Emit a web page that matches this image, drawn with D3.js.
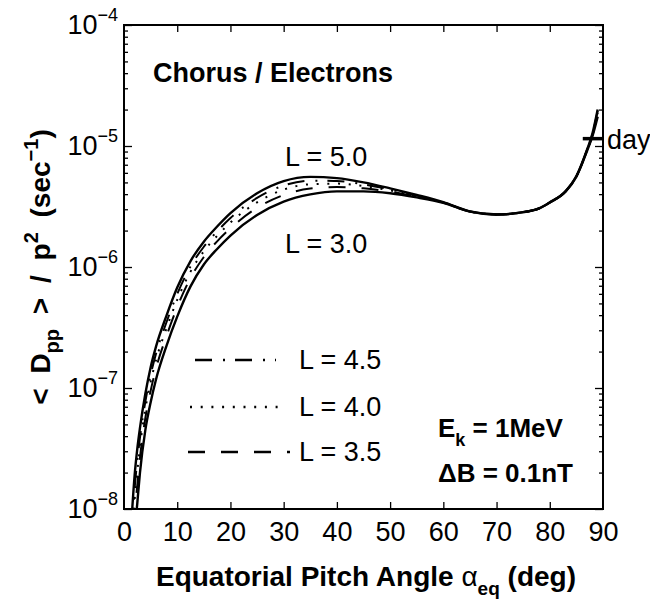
<!DOCTYPE html>
<html><head><meta charset="utf-8">
<script src="https://cdn.jsdelivr.net/npm/d3@7"></script>
<style>
body{margin:0;background:#fff}
svg{display:block}
text{font-family:"Liberation Sans",Arial,Helvetica,sans-serif;fill:#000}
</style>
</head><body>
<svg id="c" width="650" height="602"></svg>
<script>
// ---------- data ----------
const angles = [1.5,2,2.5,3,4,5,6,8,10,12.5,15,17.5,20,25,30,35,40,45,50,55,60,65,70,75,78,80,83,85,87,88,89];
const dppL50 = [9.33e-9,1.91e-8,3.16e-8,4.68e-8,8.91e-8,1.48e-7,2.19e-7,3.98e-7,6.76e-7,1.12e-6,1.62e-6,2.16e-6,2.79e-6,4.07e-6,5.13e-6,5.56e-6,5.43e-6,5.01e-6,4.47e-6,3.94e-6,3.43e-6,2.88e-6,2.72e-6,2.84e-6,3.05e-6,3.42e-6,4.25e-6,5.65e-6,9.33e-6,1.26e-5,2.00e-5];
const dppL45 = [7.00e-9,1.49e-8,2.52e-8,3.88e-8,7.66e-8,1.28e-7,1.91e-7,3.51e-7,5.98e-7,1.01e-6,1.47e-6,1.97e-6,2.54e-6,3.72e-6,4.71e-6,5.16e-6,5.14e-6,4.82e-6,4.38e-6,3.90e-6,3.42e-6,2.88e-6,2.72e-6,2.84e-6,3.05e-6,3.42e-6,4.24e-6,5.63e-6,9.28e-6,1.25e-5,1.95e-5];
const dppL40 = [5.37e-9,1.20e-8,2.05e-8,3.27e-8,6.67e-8,1.12e-7,1.69e-7,3.13e-7,5.36e-7,9.16e-7,1.35e-6,1.81e-6,2.33e-6,3.42e-6,4.36e-6,4.83e-6,4.89e-6,4.66e-6,4.30e-6,3.86e-6,3.41e-6,2.88e-6,2.72e-6,2.84e-6,3.05e-6,3.42e-6,4.24e-6,5.61e-6,9.22e-6,1.23e-5,1.88e-5];
const dppL35 = [3.89e-9,9.08e-9,1.58e-8,2.64e-8,5.61e-8,9.46e-8,1.44e-7,2.70e-7,4.67e-7,8.11e-7,1.21e-6,1.63e-6,2.09e-6,3.08e-6,3.94e-6,4.45e-6,4.58e-6,4.47e-6,4.20e-6,3.82e-6,3.40e-6,2.87e-6,2.72e-6,2.84e-6,3.05e-6,3.41e-6,4.23e-6,5.60e-6,9.18e-6,1.22e-5,1.82e-5];
const dppL30 = [2.51e-9,6.31e-9,1.12e-8,2.00e-8,4.47e-8,7.59e-8,1.17e-7,2.24e-7,3.89e-7,6.92e-7,1.05e-6,1.41e-6,1.82e-6,2.69e-6,3.47e-6,3.98e-6,4.22e-6,4.22e-6,4.07e-6,3.76e-6,3.39e-6,2.87e-6,2.71e-6,2.84e-6,3.05e-6,3.41e-6,4.22e-6,5.58e-6,9.10e-6,1.20e-5,1.75e-5];
const seriesNames = ["L = 5.0","L = 4.5","L = 4.0","L = 3.5","L = 3.0"];
const xTickValues = [0,10,20,30,40,50,60,70,80,90];
const yDecadeExponents = [-8,-7,-6,-5,-4];
const dayValue = 1.15e-5;
const dayAngles = [86.2,90];

// ---------- styles ----------
const dashes = {"L = 5.0":null,"L = 4.5":"17,11,2,10","L = 4.0":"2,8.7","L = 3.5":"17,16","L = 3.0":null};

// ---------- layout ----------
const L = 124, R = 603, T = 25, B = 509;
const svg = d3.select("#c");
const x = d3.scaleLinear().domain([0,90]).range([L,R]);
const y = d3.scaleLog().domain([1e-8,1e-4]).range([B,T]);

svg.append("clipPath").attr("id","clip").append("rect")
  .attr("x",L).attr("y",T).attr("width",R-L).attr("height",B-T);

// ticks (inward)
const minor = [];
yDecadeExponents.slice(0,-1).forEach(e=>{for(let m=2;m<=9;m++) minor.push(m*Math.pow(10,e));});
const decades = yDecadeExponents.map(e=>Math.pow(10,e));
function styleAxis(g){g.select(".domain").remove();g.selectAll("line").attr("stroke","#000").attr("stroke-width",1.3);}
svg.append("g").attr("transform",`translate(0,${B})`).call(d3.axisBottom(x).tickValues(xTickValues.slice(1,-1)).tickSize(-7).tickFormat("")).call(styleAxis);
svg.append("g").attr("transform",`translate(0,${T})`).call(d3.axisTop(x).tickValues(xTickValues.slice(1,-1)).tickSize(-7).tickFormat("")).call(styleAxis);
svg.append("g").attr("transform",`translate(${L},0)`).call(d3.axisLeft(y).tickValues(decades).tickSize(-8).tickFormat("")).call(styleAxis);
svg.append("g").attr("transform",`translate(${L},0)`).call(d3.axisLeft(y).tickValues(minor).tickSize(-4).tickFormat("")).call(styleAxis);
svg.append("g").attr("transform",`translate(${R},0)`).call(d3.axisRight(y).tickValues(decades).tickSize(-8).tickFormat("")).call(styleAxis);
svg.append("g").attr("transform",`translate(${R},0)`).call(d3.axisRight(y).tickValues(minor).tickSize(-4).tickFormat("")).call(styleAxis);

// x tick labels
const xl = svg.append("g").attr("transform",`translate(0,${B})`)
  .call(d3.axisBottom(x).tickValues(xTickValues).tickSize(0).tickPadding(13).tickFormat(d=>String(d)));
xl.select(".domain").remove();
xl.selectAll("text").attr("font-size",27).attr("font-family","Liberation Sans, Arial, sans-serif");

// y tick labels
const yl = svg.append("g").selectAll("text").data(yDecadeExponents).join("text")
  .attr("x",118).attr("y",e=>y(Math.pow(10,e))+9).attr("text-anchor","end").attr("font-size",27);
yl.append("tspan").text("10");
yl.append("tspan").attr("dy",-13).attr("font-size",18).text(e=>"\u2212"+Math.abs(e));

// series
const series = [dppL50,dppL45,dppL40,dppL35,dppL30].map((vals,i)=>({name:seriesNames[i],pts:angles.map((a,j)=>[a,vals[j]])}));
const line = d3.line().x(d=>x(d[0])).y(d=>y(d[1])).curve(d3.curveMonotoneX);
svg.append("g").attr("clip-path","url(#clip)").selectAll("path").data(series).join("path")
  .attr("d",d=>line(d.pts)).attr("fill","none").attr("stroke","#000")
  .attr("stroke-width",d=>dashes[d.name]?2:2.4)
  .attr("stroke-dasharray",d=>dashes[d.name]);

// day marker
svg.append("line").attr("x1",x(dayAngles[0])).attr("x2",x(dayAngles[1]))
  .attr("y1",y(dayValue)).attr("y2",y(dayValue)).attr("stroke","#000").attr("stroke-width",3.5);
svg.append("text").attr("x",607).attr("y",y(dayValue)+10).attr("font-size",27).text("day");

// frame
svg.append("rect").attr("x",L).attr("y",T).attr("width",R-L).attr("height",B-T)
  .attr("fill","none").attr("stroke","#000").attr("stroke-width",2);

// annotations
svg.append("text").attr("x",153).attr("y",82).attr("font-size",27).attr("font-weight","bold").text("Chorus / Electrons");
svg.append("text").attr("x",285).attr("y",166).attr("font-size",27).text(seriesNames[0]);
svg.append("text").attr("x",285).attr("y",253).attr("font-size",27).text(seriesNames[4]);

// legend
const legendItems = [seriesNames[1],seriesNames[2],seriesNames[3]];
const legY = [360,407,452];
const legX1 = [195,190,188], legX2 = [276,278,290];
legendItems.forEach((nm,i)=>{
  svg.append("line").attr("x1",legX1[i]).attr("x2",legX2[i]).attr("y1",legY[i]).attr("y2",legY[i])
    .attr("stroke","#000").attr("stroke-width",2.4).attr("stroke-dasharray",dashes[nm]);
  svg.append("text").attr("x",299).attr("y",legY[i]+9).attr("font-size",27).text(nm);
});

// Ek, dB
const ek = svg.append("text").attr("x",438).attr("y",437).attr("font-size",26).attr("font-weight","bold");
ek.append("tspan").text("E");
ek.append("tspan").attr("dy",9).attr("font-size",18).text("k");
ek.append("tspan").attr("dy",-9).text(" = 1MeV");
svg.append("text").attr("x",438).attr("y",482).attr("font-size",26).attr("font-weight","bold").text("\u0394B = 0.1nT");

// x title
const xt = svg.append("text").attr("x",366).attr("y",586).attr("text-anchor","middle").attr("font-size",28).attr("font-weight","bold");
xt.append("tspan").text("Equatorial Pitch Angle ");
xt.append("tspan").attr("font-weight","normal").text("\u03b1");
xt.append("tspan").attr("dy",9).attr("font-size",19).text("eq");
xt.append("tspan").attr("dy",-9).text(" (deg)");

// y title
const yt = svg.append("text").attr("transform","translate(50,267) rotate(-90)").attr("text-anchor","middle")
  .attr("font-size",28).attr("font-weight","bold").attr("word-spacing",7);
yt.append("tspan").text("< D");
yt.append("tspan").attr("dy",9).attr("font-size",20).text("pp");
yt.append("tspan").attr("dy",-9).text(" > / p");
yt.append("tspan").attr("dy",-12).attr("font-size",20).text("2");
yt.append("tspan").attr("dy",12).text(" (sec");
yt.append("tspan").attr("dy",-12).attr("font-size",20).text("\u22121");
yt.append("tspan").attr("dy",12).text(")");
</script>
</body></html>
